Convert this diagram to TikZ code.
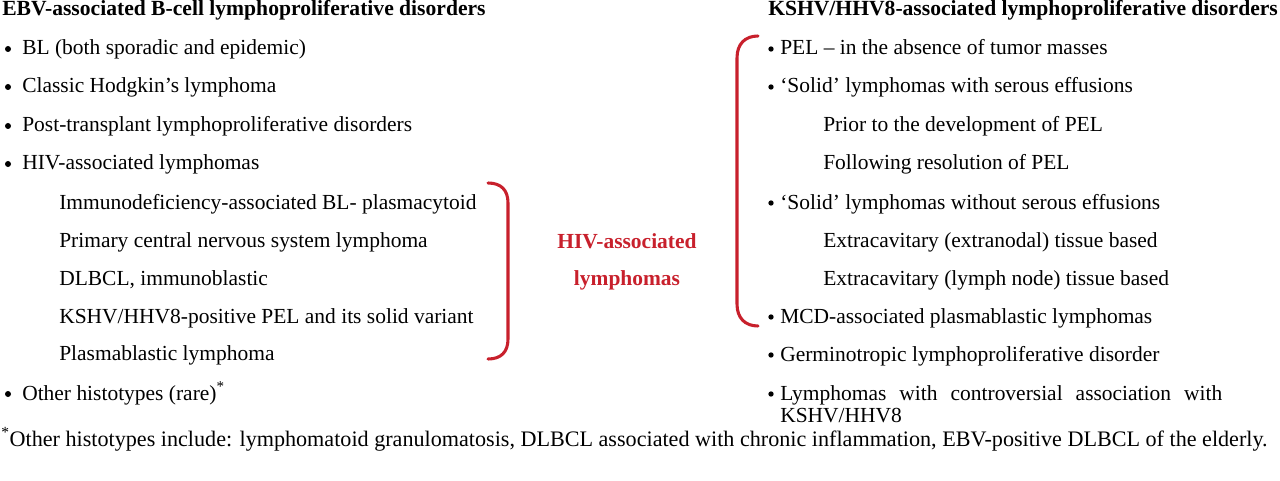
\documentclass[tikz,border=0pt]{standalone}
\usepackage{fontspec}
\setmainfont{Liberation Serif}
\definecolor{bred}{RGB}{200,32,44}
\tikzset{
  txt/.style={anchor=base west, inner sep=0pt, font=\fontsize{16.1}{18}\selectfont},
  fnt/.style={anchor=base west, inner sep=0pt, font=\fontsize{16.6}{18}\selectfont},
  hdr/.style={anchor=base west, inner sep=0pt, font=\fontsize{16.2}{18}\selectfont\bfseries},
  redtxt/.style={anchor=base, inner sep=0pt, text=bred, font=\fontsize{16.1}{18}\selectfont\bfseries},
  bul/.style={circle, fill=black, inner sep=0pt, minimum size=4.5pt},
  bulr/.style={circle, fill=black, inner sep=0pt, minimum size=4pt},
  brk/.style={draw=bred, line width=2.3pt, line cap=round}
}
\begin{document}
\begin{tikzpicture}[x=0.75pt,y=-0.75pt]
\useasboundingbox (0,0) rectangle (1280,481);
% left column
\node[hdr] (lh) at (2,16) {EBV-associated B-cell lymphoproliferative disorders};
\node[bul] (b1) at (8,49) {};
\node[txt] (l1) at (22,55) {BL (both sporadic and epidemic)};
\node[bul] (b2) at (8,87) {};
\node[txt] (l2) at (22,93) {Classic Hodgkin’s lymphoma};
\node[bul] (b3) at (8,126) {};
\node[txt] (l3) at (22,132) {Post-transplant lymphoproliferative disorders};
\node[bul] (b4) at (8,164) {};
\node[txt] (l4) at (22,170) {HIV-associated lymphomas};
\node[txt] (s1) at (59,209) {Immunodeficiency-associated BL- plasmacytoid};
\node[txt] (s2) at (59,247) {Primary central nervous system lymphoma};
\node[txt] (s3) at (59,285) {DLBCL, immunoblastic};
\node[txt] (s4) at (59,323) {KSHV/HHV8-positive PEL and its solid variant};
\node[txt] (s5) at (59,360) {Plasmablastic lymphoma};
\node[bul] (b5) at (8,394) {};
\node[txt] (l5) at (22,400) {Other histotypes (rare)\textsuperscript{*}};
% middle
\node[redtxt] (m1) at (627,248) {HIV-associated};
\node[redtxt] (m2) at (627,285) {lymphomas};
\coordinate (lbt) at (488,183);
\coordinate (lbb) at (488,359);
\draw[brk] (lbt) .. controls (501,183) and (508,190) .. (508,203) -- (508,339) .. controls (508,352) and (501,359) .. (lbb);
\coordinate (rbt) at (758,36);
\coordinate (rbb) at (758,326);
\draw[brk] (rbt) .. controls (745,36) and (737,44) .. (737,58) -- (737,304) .. controls (737,318) and (745,326) .. (rbb);
% right column
\node[hdr] (rh) at (768,16) {KSHV/HHV8-associated lymphoproliferative disorders};
\node[bulr] (r1b) at (771,49) {};
\node[txt] (r1) at (780,55) {PEL – in the absence of tumor masses};
\node[bulr] (r2b) at (771,87) {};
\node[txt] (r2) at (780,93) {‘Solid’ lymphomas with serous effusions};
\node[txt] (r2a) at (823,132) {Prior to the development of PEL};
\node[txt] (r2c) at (823,170) {Following resolution of PEL};
\node[bulr] (r3b) at (771,203) {};
\node[txt] (r3) at (780,209) {‘Solid’ lymphomas without serous effusions};
\node[txt] (r3a) at (823,247) {Extracavitary (extranodal) tissue based};
\node[txt] (r3c) at (823,285) {Extracavitary (lymph node) tissue based};
\node[bulr] (r4b) at (771,317) {};
\node[txt] (r4) at (780,323) {MCD-associated plasmablastic lymphomas};
\node[bulr] (r5b) at (771,355) {};
\node[txt] (r5) at (780,361) {Germinotropic lymphoproliferative disorder};
\node[bulr] (r6b) at (771,394) {};
\node[txt] (r6) at (780,400) {\makebox[331.5pt][s]{Lymphomas with controversial association with}};
\node[txt] (r6c) at (780,422) {KSHV/HHV8};
% footnote
\node[fnt] (fn) at (1,446) {\textsuperscript{*}Other histotypes include: lymphomatoid granulomatosis, DLBCL associated with chronic inflammation, EBV-positive DLBCL of the elderly.};
\end{tikzpicture}
\end{document}
